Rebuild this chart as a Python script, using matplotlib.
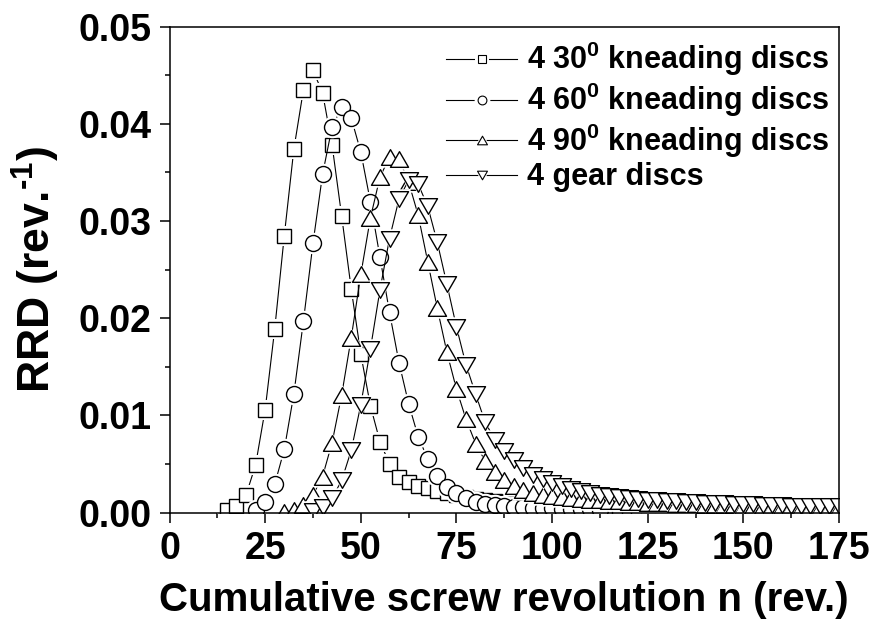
import numpy as np
import matplotlib
matplotlib.use("Agg")
import matplotlib.pyplot as plt
from matplotlib.path import Path
from matplotlib.ticker import MultipleLocator, FormatStrFormatter
from matplotlib.legend_handler import HandlerTuple

plt.rcParams['font.family'] = ['Liberation Sans', 'DejaVu Sans']
plt.rcParams['font.weight'] = 'bold'
plt.rcParams['mathtext.fontset'] = 'custom'
plt.rcParams['mathtext.rm'] = 'Liberation Sans:bold'
plt.rcParams['mathtext.bf'] = 'Liberation Sans:bold'
plt.rcParams['mathtext.it'] = 'Liberation Sans:bold'

# ---------------- data ----------------
x30 = np.arange(15, 125.1, 2.5)
y30 = [0.0003, 0.0007, 0.0018, 0.0049, 0.0106, 0.0189, 0.0285, 0.0374, 0.0435, 0.0455,
       0.0432, 0.0378, 0.0305, 0.0230, 0.0163, 0.0110, 0.0073, 0.0050, 0.0037, 0.0031,
       0.0027, 0.0025, 0.0022, 0.0020, 0.0018, 0.0016, 0.0014, 0.0013, 0.0012, 0.0011,
       0.0010, 0.0009, 0.0008, 0.0007, 0.0006, 0.00055, 0.0005, 0.00045, 0.0004, 0.00037,
       0.00034, 0.0003, 0.00028, 0.00026, 0.00024]

x60 = np.arange(22.5, 112.6, 2.5)
y60 = [0.0003, 0.0011, 0.0029, 0.0065, 0.0122, 0.0197, 0.0277, 0.0348, 0.0397, 0.0417,
       0.0406, 0.0371, 0.0320, 0.0263, 0.0206, 0.0154, 0.0112, 0.0078, 0.0055, 0.0038,
       0.0026, 0.0020, 0.0015, 0.0011, 0.0009, 0.0008, 0.0007, 0.0006, 0.00055, 0.0005,
       0.00047, 0.00044, 0.0004, 0.00038, 0.00035, 0.00033, 0.0003]

x90 = np.arange(30, 175.1, 2.5)
y90 = [0.0001, 0.0003, 0.0008, 0.0018, 0.0037, 0.0072, 0.0121, 0.0180, 0.0245, 0.0303,
       0.0345, 0.0366, 0.0364, 0.0340, 0.0306, 0.0258, 0.0210, 0.0165, 0.0127, 0.0096,
       0.0071, 0.0053, 0.0042, 0.0033, 0.0027, 0.0023, 0.0020, 0.0018, 0.0017, 0.0016,
       0.0015, 0.0014, 0.0013, 0.00125, 0.0012, 0.00115, 0.0011, 0.00105, 0.0010, 0.00097,
       0.00094, 0.0009, 0.00088, 0.00085, 0.00082, 0.0008, 0.00077, 0.00075, 0.00072, 0.0007,
       0.00068, 0.00066, 0.00064, 0.00062, 0.0006, 0.00058, 0.00056, 0.00054, 0.00052]

xgear = np.arange(37.5, 175.1, 2.5)
ygear = [0.0002, 0.0006, 0.0015, 0.0033, 0.0064, 0.0111, 0.0168, 0.0229, 0.0282, 0.0323,
         0.0342, 0.0338, 0.0315, 0.0278, 0.0235, 0.0191, 0.0152, 0.0122, 0.0093, 0.0075,
         0.0063, 0.0054, 0.0046, 0.0039, 0.0034, 0.0030, 0.0027, 0.0024, 0.0022, 0.0020,
         0.0018, 0.0017, 0.0016, 0.0015, 0.0014, 0.0013, 0.00125, 0.0012, 0.00115, 0.0011,
         0.00105, 0.0010, 0.00097, 0.00094, 0.0009, 0.00087, 0.00084, 0.00081, 0.00078, 0.00075,
         0.00072, 0.0007, 0.00068, 0.00066, 0.00064, 0.00062]

labels = ["4 30$^{0}$ kneading discs", "4 60$^{0}$ kneading discs",
          "4 90$^{0}$ kneading discs", "4 gear discs"]

# ---------------- markers ----------------
tri_up = Path([(0, 0.866), (-1, -0.866), (1, -0.866), (0, 0.866)],
              [Path.MOVETO, Path.LINETO, Path.LINETO, Path.CLOSEPOLY])
tri_dn = Path([(0, -0.866), (-1, 0.866), (1, 0.866), (0, -0.866)],
              [Path.MOVETO, Path.LINETO, Path.LINETO, Path.CLOSEPOLY])

fig = plt.figure(figsize=(8.77, 6.21), dpi=100)
ax = fig.add_axes([0.1933, 0.1747, 0.7634, 0.7823])

series = [(x30, y30, 's', 10), (x60, y60, 'o', 11.5),
          (x90, y90, tri_up, 13), (xgear, ygear, tri_dn, 13)]
handles = []
for (xs, ys, m, ms) in series:
    ax.plot(xs, ys, color='black', lw=0.8)
    ax.plot(xs, ys, ls='none', marker=m, ms=ms + 4, mfc='white', mec='white', mew=0)
    ax.plot(xs, ys, ls='none', marker=m, ms=ms, mfc='white', mec='black', mew=1.0)
    lh = plt.Line2D([], [], color='black', lw=0.8)
    hh = plt.Line2D([], [], ls='none', marker=m, ms=ms * 0.55 + 5, mfc='white', mec='white', mew=0)
    mh = plt.Line2D([], [], ls='none', marker=m, ms=ms * 0.55, mfc='white', mec='black', mew=0.8)
    handles.append((lh, hh, mh))

ax.set_xlim(0, 175)
ax.set_ylim(0, 0.05)
ax.xaxis.set_major_locator(MultipleLocator(25))
ax.xaxis.set_minor_locator(MultipleLocator(12.5))
ax.yaxis.set_major_locator(MultipleLocator(0.01))
ax.yaxis.set_minor_locator(MultipleLocator(0.005))
ax.yaxis.set_major_formatter(FormatStrFormatter('%.2f'))

for s in ax.spines.values():
    s.set_linewidth(1.1)
ax.tick_params(which='major', direction='out', length=7.2, width=1.1, labelsize=27, pad=6)
ax.tick_params(which='minor', direction='out', length=3.3, width=1.1)
for t in ax.get_xticklabels() + ax.get_yticklabels():
    t.set_fontweight('bold')

ax.set_xlabel("Cumulative screw revolution n (rev.)", fontsize=29, fontweight='bold', labelpad=10)
ax.set_ylabel(r"RRD (rev.$^{\text{-}1}$)", fontsize=32, fontweight='bold')
ax.yaxis.set_label_coords(-0.16, 0.5)

leg = ax.legend(handles, labels, handler_map={tuple: HandlerTuple(ndivide=1, pad=0)},
                loc='upper right', bbox_to_anchor=(1.013, 1.01), frameon=False,
                prop={'weight': 'bold', 'size': 22},
                handlelength=2.3, handletextpad=0.35, labelspacing=0.08,
                borderaxespad=0.2)

fig.savefig("out.png", dpi=100)
